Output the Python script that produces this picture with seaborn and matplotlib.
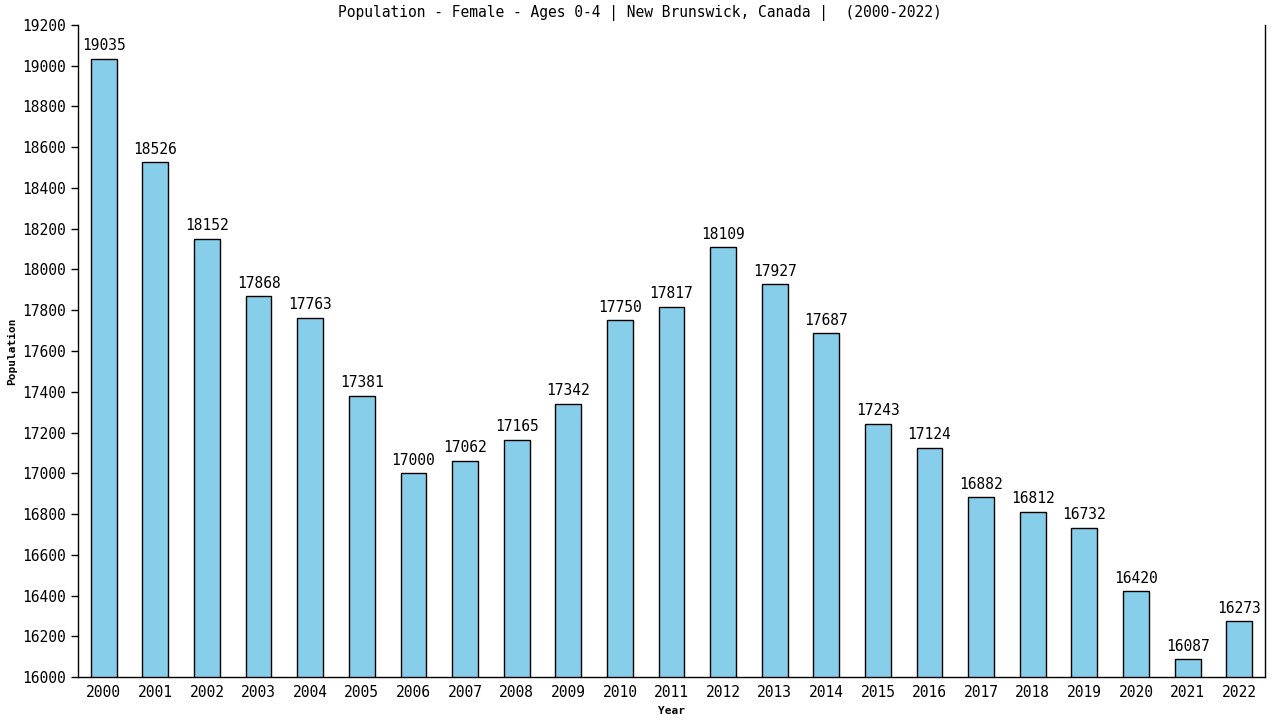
import matplotlib
matplotlib.use("Agg")
import matplotlib.pyplot as plt
import seaborn as sns
import pandas as pd

years = [str(y) for y in range(2000, 2023)]
population = [19035, 18526, 18152, 17868, 17763, 17381, 17000, 17062, 17165, 17342,
              17750, 17817, 18109, 17927, 17687, 17243, 17124, 16882, 16812, 16732,
              16420, 16087, 16273]
yticks = list(range(16000, 19201, 200))

df = pd.DataFrame({"Year": years, "Population": population})

sns.set_style("white")
plt.rcParams['font.family'] = ['DejaVu Sans Mono', 'DejaVu Sans']
plt.rcParams['text.color'] = 'black'
plt.rcParams['axes.labelcolor'] = 'black'
plt.rcParams['xtick.color'] = 'black'
plt.rcParams['ytick.color'] = 'black'

fig = plt.figure(figsize=(12.8, 7.2), dpi=100)
ax = fig.add_axes([0.0609, 0.0597, 0.9274, 0.9056])
sns.barplot(data=df, x="Year", y="Population", color="#87CEEB", saturation=1,
            width=0.5, edgecolor="black", linewidth=1, ax=ax)
ax.set_ylim(16000, 19200)
ax.set_xlim(-0.5, 22.5)
ax.set_yticks(yticks)
ax.set_yticklabels([str(t) for t in yticks])
for i, v in enumerate(population):
    ax.text(i, v + 28, str(v), ha="center", va="bottom", fontsize=10.5, color="black")
ax.tick_params(axis="y", direction="out", length=5, width=1, labelsize=10.5, color="black", left=True)
ax.tick_params(axis="x", length=0, labelsize=10.5, pad=6)
for s in ["left", "bottom", "right"]:
    ax.spines[s].set_visible(True)
    ax.spines[s].set_color("black")
    ax.spines[s].set_linewidth(1)
ax.spines["top"].set_visible(False)
ax.set_xlabel("Year", fontsize=8, fontweight="bold")
ax.set_ylabel("Population", fontsize=8, fontweight="bold")
fig.suptitle("Population - Female - Ages 0-4 | New Brunswick, Canada |  (2000-2022)",
             fontsize=10.5, y=0.993)
fig.savefig("out.png", dpi=100)
